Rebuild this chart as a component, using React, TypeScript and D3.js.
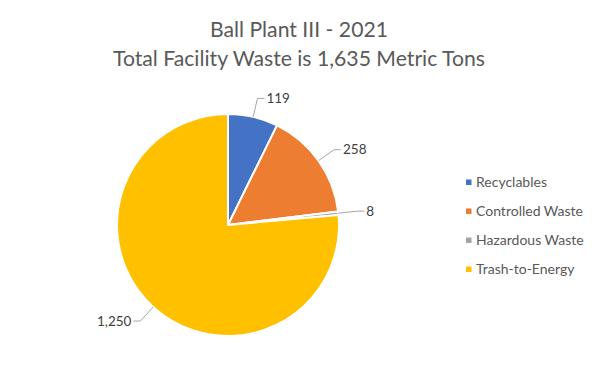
import React from "react";
import * as d3 from "d3";

const categories = ["Recyclables", "Controlled Waste", "Hazardous Waste", "Trash-to-Energy"];
const values = [119, 258, 8, 1250];
const colors = ["#4472C4", "#ED7D31", "#A5A5A5", "#FFC000"];
const titleLines = ["Ball Plant III - 2021", "Total Facility Waste is 1,635 Metric Tons"];

const W = 599;
const H = 376;
const cx = 228;
const cy = 225;
const R = 111;
const FONT = "Lato, 'Open Sans', sans-serif";

export default function App() {
  const pie = d3.pie<number>().sort(null).value((d) => d)(values);
  const arc = d3.arc<d3.PieArcDatum<number>>().innerRadius(0).outerRadius(R);
  const fmt = d3.format(",");

  return (
    <svg width={W} height={H} style={{ position: "absolute", left: 0, top: 0, background: "#fff" }}>
      <rect width={W} height={H} fill="#fff" />
      {titleLines.map((t, i) => (
        <text key={i} x={299} y={37 + i * 28.5} textAnchor="middle" fontFamily={FONT} fontSize={21.2} fill="#595959">
          {t}
        </text>
      ))}
      <g transform={`translate(${cx},${cy})`}>
        {pie.map((p, i) => (
          <path key={i} d={arc(p) || ""} fill={colors[i]} stroke="#fff" strokeWidth={2} strokeLinejoin="round" />
        ))}
        {pie.map((p, i) => {
          const a = (p.startAngle + p.endAngle) / 2;
          const sx = Math.sin(a), cy0 = -Math.cos(a);
          const x0 = sx * R, y0 = cy0 * R;
          const x1 = sx * (R + 19), y1 = cy0 * (R + 19);
          const dir = sx >= 0 ? 1 : -1;
          const x2 = x1 + dir * 7;
          return (
            <g key={i}>
              <polyline points={`${x0},${y0} ${x1},${y1} ${x2},${y1}`} fill="none" stroke="#a6a6a6" strokeWidth={1} />
              <text x={x2 + dir * 2} y={y1} dy="0.35em" textAnchor={dir > 0 ? "start" : "end"} fontFamily={FONT} fontSize={13.5} fill="#404040">
                {fmt(values[i])}
              </text>
            </g>
          );
        })}
      </g>
      {categories.map((c, i) => (
        <g key={c} transform={`translate(466,${182 + i * 29})`}>
          <rect x={0} y={-2.5} width={5.5} height={5.5} fill={colors[i]} />
          <text x={10} y={0} dy="0.35em" fontFamily={FONT} fontSize={14} fill="#595959">
            {c}
          </text>
        </g>
      ))}
    </svg>
  );
}
